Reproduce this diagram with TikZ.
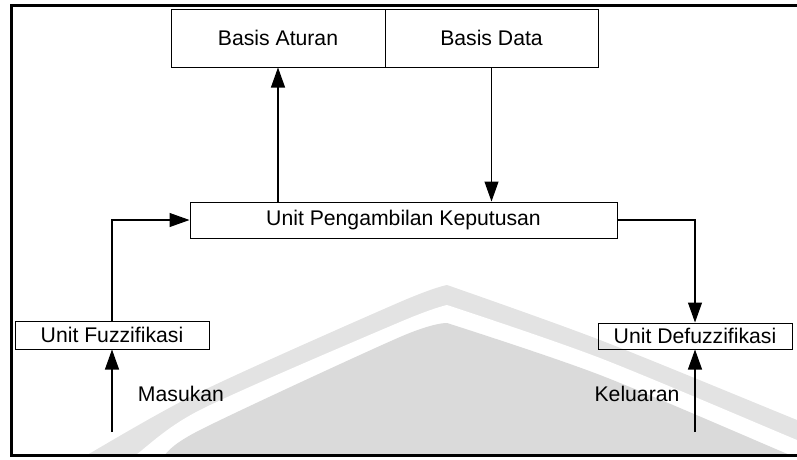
\documentclass[tikz,border=0pt]{standalone}
\usepackage{fontspec}
\setmainfont{Liberation Sans}
\usetikzlibrary{arrows.meta}
\definecolor{bandgrey}{HTML}{E3E3E3}
\definecolor{fillgrey}{HTML}{DADADA}
\tikzset{
  box/.style={draw, line width=1pt, minimum height=#1, inner sep=0pt, font=\fontsize{21.2}{25}\selectfont},
  arr/.style={line width=1.1pt, -{Triangle[length=20pt,width=14pt]}},
  lbl/.style={font=\fontsize{21.2}{25}\selectfont, inner sep=0pt},
  frame/.style={line width=3pt}
}
\begin{document}
\begin{tikzpicture}[x=1pt,y=-1pt]
\useasboundingbox (0,0) rectangle (797,459);
% background logo fragment
\begin{scope}
\clip (11.5,5.5) rectangle (800,455);
\fill[bandgrey] plot[smooth] coordinates {(60,470) (80,459) (200,392) (400,302) (447,285)} -- plot[smooth] coordinates {(447,285) (600,340) (797,420) (810,425)} -- (810,470) -- cycle;
\fill[white] plot[smooth] coordinates {(100,470) (130,459) (200,410) (400,322) (447,305)} -- plot[smooth] coordinates {(447,305) (600,358) (797,440) (810,445)} -- (810,470) -- cycle;
\fill[fillgrey] plot[smooth] coordinates {(140,470) (160,459) (200,430) (400,337) (447,323)} -- plot[smooth] coordinates {(447,323) (600,375) (797,458) (810,462)} -- (810,470) -- cycle;
\end{scope}
% frame
\draw[frame] (800,5.5) -- (11.5,5.5) -- (11.5,455) -- (800,455);
% nodes
\node[box=58pt, minimum width=214pt] (ba) at (278,38) {Basis Aturan};
\node[box=58pt, minimum width=213pt] (bd) at (491.5,38) {Basis Data};
\node[box=36pt, minimum width=427pt] (up) at (403.5,220) {Unit Pengambilan Keputusan};
\node[box=28pt, minimum width=194pt] (uf) at (112,335) {Unit Fuzzifikasi};
\node[box=26pt, minimum width=194pt] (ud) at (695,336) {Unit Defuzzifikasi};
\coordinate (in) at (112,432);
\coordinate (out) at (695,432);
\node[lbl] (masukan) at (181,394) {Masukan};
\node[lbl] (keluaran) at (637,394) {Keluaran};
% connectors
\draw[arr] (up.north -| ba.south) -- (ba.south);
\draw[arr] (bd.south) -- (up.north -| bd.south);
\draw[arr] (uf.north) |- (up.west);
\draw[arr] (up.east) -| (ud.north);
\draw[arr] (in) -- (uf.south);
\draw[arr] (out) -- (ud.south);
\end{tikzpicture}
\end{document}
